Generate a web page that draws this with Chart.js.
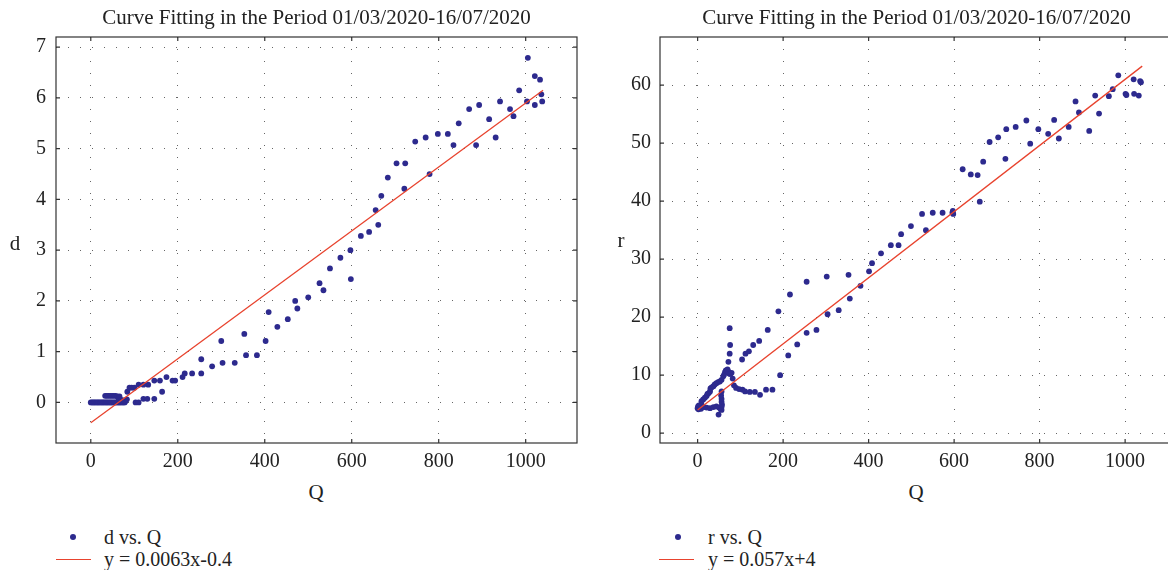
<!DOCTYPE html>
<html>
<head>
<meta charset="utf-8">
<script src="https://cdn.jsdelivr.net/npm/chart.js@4.4.1/dist/chart.umd.min.js"></script>
<style>
  body { margin: 0; width: 1168px; height: 570px; overflow: hidden; position: relative; background: #fff;
         font-family: "Liberation Serif", serif; color: #222; }
  canvas { position: absolute; top: 0; }
  .lbl { position: absolute; font-size: 21px; line-height: 24px; transform: translate(-50%, -50%); white-space: nowrap; }
  .leg { position: absolute; font-size: 20px; line-height: 22px; white-space: nowrap; }
  .dot { position: absolute; width: 6px; height: 6px; border-radius: 50%; background: #2d2a8e; }
  .dash { position: absolute; width: 35px; height: 0; border-top: 1.5px solid #e8432e; }
</style>
</head>
<body>
<canvas id="leftChart" width="600" height="480" style="left:0"></canvas>
<canvas id="rightChart" width="580" height="480" style="left:600px"></canvas>

<div class="lbl" style="left:15px; top:243px">d</div>
<div class="lbl" style="left:316px; top:492px">Q</div>
<div class="lbl" style="left:621px; top:240px">r</div>
<div class="lbl" style="left:916px; top:492px">Q</div>

<div class="dot" style="left:70px; top:534px"></div>
<div class="leg" style="left:104px; top:526px">d vs. Q</div>
<div class="dash" style="left:56px; top:559px"></div>
<div class="leg" style="left:104px; top:548px">y = 0.0063x-0.4</div>

<div class="dot" style="left:675px; top:534px"></div>
<div class="leg" style="left:708px; top:526px">r vs. Q</div>
<div class="dash" style="left:659px; top:559px"></div>
<div class="leg" style="left:708px; top:548px">y = 0.057x+4</div>

<script>
// tick values
const xTicks = [0, 200, 400, 600, 800, 1000];
const dTicks = [0, 1, 2, 3, 4, 5, 6, 7];
const rTicks = [0, 10, 20, 30, 40, 50, 60];

// d vs. Q  [Q, d]
const dVsQ = [
  [0,0],[3,0],[6,0],[9,0],[12,0],[15,0],[18,0],[21,0],[24,0],[27,0],[30,0],[33,0],[36,0],[39,0],
  [42,0],[45,0],[48,0],[51,0],[54,0],[57,0],[60,0],[63,0],[66,0],[69,0],[72,0],[75,0],[78,0],
  [33,0.13],[37,0.13],[41,0.13],[45,0.13],[49,0.13],[53,0.13],[57,0.13],[61,0.12],
  [64,0.08],[66,0.12],[70,0.05],[75,0.04],[80,0.03],[83,0.06],
  [84,0.21],[89,0.29],[94,0.29],[100,0.29],[103,0],[110,0],[110,0.35],[121,0.35],[121,0.07],
  [130,0.07],[132,0.35],[146,0.07],[146,0.43],[159,0.43],[164,0.21],[174,0.5],[188,0.43],
  [194,0.43],[211,0.5],[216,0.57],[233,0.57],[254,0.85],[254,0.57],[279,0.71],[300,1.21],
  [303,0.78],[331,0.78],[353,1.35],[357,0.93],[382,0.93],[402,1.21],[409,1.78],[429,1.49],
  [453,1.64],[470,2.0],[475,1.85],[500,2.07],[526,2.35],[535,2.21],[550,2.64],[574,2.85],
  [597,3.0],[598,2.43],[621,3.28],[640,3.36],[661,3.5],[655,3.79],[668,4.07],[683,4.43],
  [703,4.71],[723,4.71],[721,4.21],[746,5.14],[770,5.22],[779,4.5],[798,5.29],[821,5.29],
  [834,5.07],[846,5.5],[870,5.78],[886,5.07],[893,5.86],[916,5.58],[931,5.22],[941,5.93],
  [964,5.78],[972,5.64],[985,6.15],[1003,5.93],[1005,6.79],[1021,6.43],[1021,5.86],
  [1033,6.36],[1036,6.07],[1038,5.93]
];

// r vs. Q  [Q, r]
const rVsQ = [
  [0,4.3],[1,4.6],[2,4.1],[3,4.8],[4,4.4],[6,4.6],[8,4.2],
  [9,5.5],[13,5.8],[17,6.1],[21,6.4],[23,6.75],[26,6.9],[29,7.2],[30,7.7],[33,7.9],[37,8.1],
  [40,8.4],[44,8.6],[48,8.8],[52,8.9],[56,9.2],[60,9.8],[62,10.1],[64,10.5],[66,10.8],
  [68,10.7],[70,11.0],[72,10.6],[74,10.3],[76,10.2],[79.5,10.4],[82,9.4],
  [72,12.3],[75,13.7],[76,15.2],[75,18.1],
  [85,8.25],[90,7.8],[97,7.6],[105,7.5],[111,7.2],[122,7.1],[134,7.1],[146,6.6],[160,7.5],
  [175,7.5],[193,10.0],[212,13.4],[233,15.3],
  [104,12.7],[112,13.7],[120,14.1],[130,15.2],[144,15.9],[164,17.8],
  [10,4.8],[15,4.5],[21,4.4],[29,4.3],[37,4.5],[44,4.6],[50,4.4],[54,4.1],[49,3.2],
  [56,4.0],[56,4.5],[57,4.9],[56,5.4],[56,5.9],[55,6.5],[56,7.2],
  [189,21.0],[216,23.9],[255,26.1],[255,17.3],[278,17.8],[302,27.0],[304,20.5],[330,21.2],
  [353,27.3],[356,23.2],[381,25.4],[401,27.9],[408,29.3],[429,31.0],[452,32.4],[470,32.4],
  [476,34.3],[499,35.7],[525,37.8],[534,35.0],[550,38.0],[573,38.0],[596,38.0],[597,38.3],
  [598,37.8],[620,45.5],[639,44.6],[655,44.5],[660,39.9],[668,46.8],[683,50.2],[703,51.0],
  [720,47.3],[722,52.4],[744,52.8],[769,53.9],[778,49.9],[797,52.4],[820,51.6],[834,54.0],
  [845,50.8],[868,52.8],[884,57.2],[892,55.3],[916,52.1],[930,58.2],[939,55.1],[962,58.1],
  [971,59.3],[984,61.7],[1001,58.5],[1003,58.3],[1020,61.0],[1021,58.5],[1032,58.2],
  [1035,60.7],[1037,60.5]
];

// fitted lines, end points
const dFit = [[0, -0.4], [1040, 6.152]];
const rFit = [[0, 4], [1040, 63.28]];

const TITLE = 'Curve Fitting in the Period 01/03/2020-16/07/2020';
const FONT = "'Liberation Serif', serif";

Chart.defaults.font.family = FONT;
Chart.defaults.color = '#222';

// box round the plot with small inward ticks
const frame = {
  id: 'frame',
  afterDatasetsDraw(chart) {
    const { ctx, chartArea: a, scales: { x, y } } = chart;
    ctx.save();
    ctx.strokeStyle = '#333';
    ctx.lineWidth = 1.2;
    ctx.strokeRect(a.left, a.top, a.right - a.left, a.bottom - a.top);
    ctx.beginPath();
    x.ticks.forEach(t => {
      const px = x.getPixelForValue(t.value);
      ctx.moveTo(px, a.bottom); ctx.lineTo(px, a.bottom - 4);
      ctx.moveTo(px, a.top); ctx.lineTo(px, a.top + 4);
    });
    y.ticks.forEach(t => {
      const py = y.getPixelForValue(t.value);
      ctx.moveTo(a.left, py); ctx.lineTo(a.left + 4, py);
      ctx.moveTo(a.right, py); ctx.lineTo(a.right - 4, py);
    });
    ctx.stroke();
    ctx.restore();
  }
};

function makeChart(id, points, fit, yTicks, opt) {
  const toXY = arr => arr.map(p => ({ x: p[0], y: p[1] }));
  const tickFont = { family: FONT, size: 20 };
  return new Chart(document.getElementById(id), {
    type: 'scatter',
    data: {
      datasets: [
        {
          data: toXY(fit),
          showLine: true,
          borderColor: '#e8432e',
          borderWidth: 1.3,
          pointRadius: 0
        },
        {
          data: toXY(points),
          backgroundColor: '#2d2a8e',
          borderWidth: 0,
          pointRadius: 2.9
        }
      ]
    },
    options: {
      responsive: false,
      animation: false,
      devicePixelRatio: 1,
      layout: { padding: { left: 0, right: opt.padRight, top: 0, bottom: 0 } },
      plugins: {
        legend: { display: false },
        tooltip: { enabled: false },
        title: {
          display: true,
          text: TITLE,
          fullSize: false,
          color: '#222',
          font: { family: FONT, size: 21, weight: 'normal' },
          padding: { top: 6, bottom: 5.8 }
        }
      },
      scales: {
        x: {
          type: 'linear',
          min: opt.xMin,
          max: opt.xMax,
          afterBuildTicks: s => { s.ticks = xTicks.map(v => ({ value: v })); },
          afterFit: s => { s.height = 37; },
          grid: { color: '#666', lineWidth: 1, drawTicks: false },
          border: { display: false, dash: [1, 11] },
          ticks: { padding: 7, color: '#222', font: tickFont, maxRotation: 0, callback: v => String(v) }
        },
        y: {
          type: 'linear',
          min: opt.yMin,
          max: opt.yMax,
          afterBuildTicks: s => { s.ticks = yTicks.map(v => ({ value: v })); },
          afterFit: s => { s.width = opt.yWidth; },
          grid: { color: '#666', lineWidth: 1, drawTicks: false },
          border: { display: false, dash: [1, 11] },
          ticks: { padding: opt.yPad, color: '#222', font: tickFont, callback: v => String(v) }
        }
      }
    },
    plugins: [frame]
  });
}

makeChart('leftChart', dVsQ, dFit, dTicks,
  { xMin: -80, xMax: 1118, yMin: -0.8, yMax: 7.2, yWidth: 56, yPad: 10, padRight: 23 });
makeChart('rightChart', rVsQ, rFit, rTicks,
  { xMin: -88, xMax: 1112, yMin: -1.7, yMax: 68.3, yWidth: 60, yPad: 9, padRight: 7 });
</script>
</body>
</html>
